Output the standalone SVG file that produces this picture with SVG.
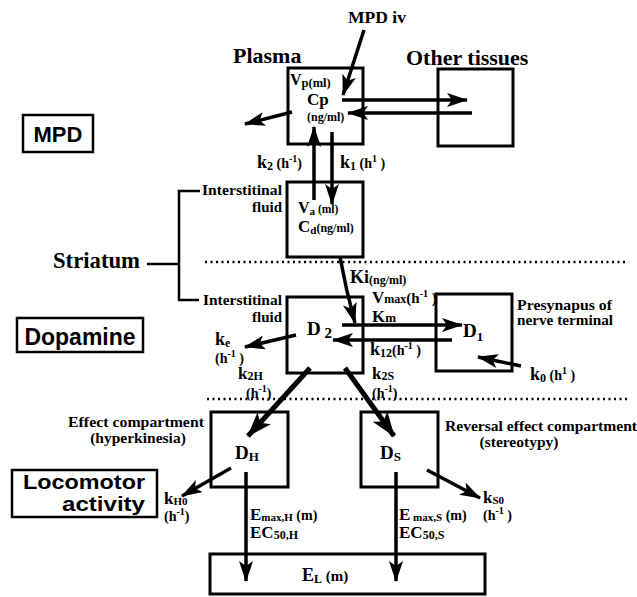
<svg xmlns="http://www.w3.org/2000/svg" width="637" height="597" viewBox="0 0 637 597">
<style>
.box{fill:none;stroke:#000;stroke-width:3}
.lb{fill:none;stroke:#000;stroke-width:2.5}
.ln{fill:none;stroke:#000;stroke-width:3.5;marker-end:url(#ah)}
.lt{fill:none;stroke:#000;stroke-width:5;marker-end:url(#ahL)}
.t{font-family:"Liberation Serif","Times New Roman",serif;font-weight:bold;fill:#000}
.s{font-family:"Liberation Sans",Arial,sans-serif;font-weight:bold;fill:#000}
.dot{stroke:#000;stroke-width:2.5;stroke-dasharray:2 3.5;fill:none}
</style>
<defs>
<marker id="ah" markerUnits="userSpaceOnUse" markerWidth="22" markerHeight="16" refX="20" refY="7" orient="auto"><path d="M0,0 L21,7 L0,14 L5,7 z" fill="#000"/></marker>
<marker id="ahL" markerUnits="userSpaceOnUse" markerWidth="26" markerHeight="20" refX="24" refY="9" orient="auto"><path d="M0,0 L25,9 L0,18 L6,9 z" fill="#000"/></marker>
</defs>
<rect width="637" height="597" fill="#fff"/>

<g id="section-labels">
<rect class="lb" x="23" y="115" width="70" height="37"/>
<text class="s" x="58" y="142" font-size="22" text-anchor="middle">MPD</text>
<text class="t" x="53" y="268" font-size="24" textLength="87" lengthAdjust="spacingAndGlyphs">Striatum</text>
<path class="lb" d="M147,264 H179 M200,191 H179 V300 H199"/>
<rect class="lb" x="17" y="318" width="126" height="34"/>
<text class="s" x="80" y="345" font-size="23" text-anchor="middle">Dopamine</text>
<rect class="lb" x="12" y="470" width="145" height="47"/>
<text class="s" x="145" y="489" font-size="21" text-anchor="end" textLength="122" lengthAdjust="spacingAndGlyphs">Locomotor</text>
<text class="s" x="145" y="511" font-size="21" text-anchor="end" textLength="83" lengthAdjust="spacingAndGlyphs">activity</text>
</g>

<g id="dividers">
<line class="dot" x1="205" y1="262" x2="628" y2="262"/>
<line class="dot" x1="207" y1="399" x2="628" y2="399"/>
</g>

<g id="plasma">
<rect class="box" x="288" y="68" width="75" height="76"/>
<text class="t" x="233" y="63" font-size="22">Plasma</text>
<text class="t" x="290" y="85" font-size="16">V<tspan font-size="12.5" dy="2">p(ml)</tspan></text>
<text class="t" x="307" y="105" font-size="17">Cp</text>
<text class="t" x="307" y="121" font-size="12">(ng/ml)</text>
</g>

<g id="other-tissues">
<rect class="box" x="438" y="69" width="75" height="77"/>
<text class="t" x="406" y="65" font-size="22">Other tissues</text>
</g>

<g id="interstitial-fluid">
<rect class="box" x="287" y="182" width="76" height="75"/>
<text class="t" x="202" y="195" font-size="15" textLength="80" lengthAdjust="spacingAndGlyphs">Interstitinal</text>
<text class="t" x="282" y="212" font-size="15" text-anchor="end">fluid</text>
<text class="t" x="298" y="213" font-size="16">V<tspan font-size="11" dy="2">a</tspan><tspan font-size="11.5" dy="-2"> (ml)</tspan></text>
<text class="t" x="298" y="232" font-size="17">C<tspan font-size="11" dy="2">d</tspan><tspan font-size="12" dy="-2">(ng/ml)</tspan></text>
</g>

<g id="d2">
<rect class="box" x="287" y="297" width="76" height="76"/>
<text class="t" x="203" y="305" font-size="15" textLength="79" lengthAdjust="spacingAndGlyphs">Interstitinal</text>
<text class="t" x="282" y="322" font-size="15" text-anchor="end">fluid</text>
<text class="t" x="307" y="335" font-size="19">D<tspan font-size="15" dy="3"> 2</tspan></text>
</g>

<g id="d1">
<rect class="box" x="436" y="294" width="76" height="77"/>
<text class="t" x="463" y="337" font-size="19">D<tspan font-size="13" dy="4">1</tspan></text>
<text class="t" x="517" y="310" font-size="15" textLength="95" lengthAdjust="spacingAndGlyphs">Presynapus of</text>
<text class="t" x="517" y="325" font-size="15" textLength="96" lengthAdjust="spacingAndGlyphs">nerve terminal</text>
</g>

<g id="dh">
<rect class="box" x="211" y="412" width="77" height="75"/>
<text class="t" x="235" y="459" font-size="19">D<tspan font-size="13" dy="2">H</tspan></text>
<text class="t" x="68" y="427" font-size="15.5" textLength="136" lengthAdjust="spacingAndGlyphs">Effect compartment</text>
<text class="t" x="138" y="443" font-size="15.5" text-anchor="middle">(hyperkinesia)</text>
</g>

<g id="ds">
<rect class="box" x="361" y="412" width="77" height="75"/>
<text class="t" x="380" y="459" font-size="19">D<tspan font-size="13" dy="2">S</tspan></text>
<text class="t" x="445" y="431" font-size="15.5" textLength="192" lengthAdjust="spacingAndGlyphs">Reversal effect compartment</text>
<text class="t" x="519" y="447" font-size="15.5" text-anchor="middle">(stereotypy)</text>
</g>

<g id="el">
<rect class="box" x="210" y="554" width="275" height="40"/>
<text class="t" x="302" y="581" font-size="18">E<tspan font-size="12" dy="2">L</tspan><tspan font-size="15" dy="-2"> (m)</tspan></text>
</g>

<g id="connectors">
<line class="ln" x1="364" y1="30" x2="343" y2="95"/>
<line class="ln" x1="342" y1="100" x2="467" y2="100"/>
<line class="ln" x1="472" y1="113" x2="348" y2="113"/>
<line class="ln" x1="292" y1="112" x2="245" y2="124"/>
<line class="ln" x1="314" y1="200" x2="314" y2="127"/>
<line class="ln" x1="332" y1="132" x2="332" y2="204"/>
<path class="ln" d="M340,257 Q346,290 355,323"/>
<line class="ln" x1="342" y1="325" x2="462" y2="325"/>
<line class="ln" x1="452" y1="340" x2="333" y2="340"/>
<line class="ln" x1="296" y1="335" x2="245" y2="347"/>
<line class="ln" x1="521" y1="366" x2="478" y2="357"/>
<line class="lt" x1="310" y1="368" x2="248" y2="436"/>
<line class="lt" x1="345" y1="368" x2="394" y2="436"/>
<line class="ln" x1="231" y1="468" x2="182" y2="496"/>
<line class="ln" x1="427" y1="470" x2="480" y2="498"/>
<line class="ln" x1="246" y1="472" x2="246" y2="581"/>
<line class="ln" x1="396" y1="472" x2="396" y2="581"/>
</g>

<g id="connector-labels">
<text class="t" x="348" y="23" font-size="16" textLength="58" lengthAdjust="spacingAndGlyphs">MPD iv</text>
<text class="t" x="257" y="168" font-size="18">k<tspan font-size="12" dy="2">2</tspan><tspan font-size="14" dy="-2"> (h</tspan><tspan font-size="10" dy="-6">-1</tspan><tspan font-size="14" dy="6">)</tspan></text>
<text class="t" x="340" y="168" font-size="18">k<tspan font-size="12" dy="2">1</tspan><tspan font-size="14" dy="-2"> (h</tspan><tspan font-size="10" dy="-6">1</tspan><tspan font-size="14" dy="6"> )</tspan></text>
<text class="t" x="350" y="283" font-size="18">Ki<tspan font-size="12" dy="1">(ng/ml)</tspan></text>
<text class="t" x="372" y="303" font-size="17">V<tspan font-size="12">max</tspan><tspan font-size="15">(h</tspan><tspan font-size="10" dy="-6">-1</tspan><tspan font-size="15" dy="6"> )</tspan></text>
<text class="t" x="372" y="322" font-size="17">K<tspan font-size="13">m</tspan></text>
<text class="t" x="370" y="355" font-size="18">k<tspan font-size="12" dy="2">12</tspan><tspan font-size="14" dy="-2">(h</tspan><tspan font-size="10" dy="-6">-1</tspan><tspan font-size="14" dy="6"> )</tspan></text>
<text class="t" x="215" y="345" font-size="18">k<tspan font-size="12" dy="2">e</tspan></text>
<text class="t" x="215" y="363" font-size="14">(h<tspan font-size="10" dy="-6">-1</tspan><tspan dy="6"> )</tspan></text>
<text class="t" x="530" y="380" font-size="18">k<tspan font-size="12" dy="2">0</tspan><tspan font-size="14" dy="-2"> (h</tspan><tspan font-size="10" dy="-6">1</tspan><tspan font-size="14" dy="6"> )</tspan></text>
<text class="t" x="238" y="379" font-size="17">k<tspan font-size="12" dy="1">2H</tspan></text>
<text class="t" x="246" y="398" font-size="14">(h<tspan font-size="10" dy="-6">-1</tspan><tspan dy="6">)</tspan></text>
<text class="t" x="372" y="379" font-size="17">k<tspan font-size="12" dy="1">2S</tspan></text>
<text class="t" x="372" y="398" font-size="14">(h<tspan font-size="10" dy="-6">-1</tspan><tspan dy="6">)</tspan></text>
<text class="t" x="164" y="504" font-size="17">k<tspan font-size="11" dy="1">H0</tspan></text>
<text class="t" x="164" y="521" font-size="14">(h<tspan font-size="10" dy="-6">-1</tspan><tspan dy="6">)</tspan></text>
<text class="t" x="483" y="503" font-size="17">k<tspan font-size="11" dy="1">S0</tspan></text>
<text class="t" x="483" y="520" font-size="14">(h<tspan font-size="10" dy="-6">-1</tspan><tspan dy="6"> )</tspan></text>
<text class="t" x="250" y="520" font-size="17">E<tspan font-size="11" dy="1">max,H</tspan><tspan font-size="14" dy="-1"> (m)</tspan></text>
<text class="t" x="250" y="538" font-size="17">EC<tspan font-size="12" dy="1">50,H</tspan></text>
<text class="t" x="399" y="520" font-size="17">E<tspan font-size="11" dy="1"> max,S</tspan><tspan font-size="14" dy="-1"> (m)</tspan></text>
<text class="t" x="399" y="538" font-size="17">EC<tspan font-size="12" dy="1">50,S</tspan></text>
</g>
</svg>
